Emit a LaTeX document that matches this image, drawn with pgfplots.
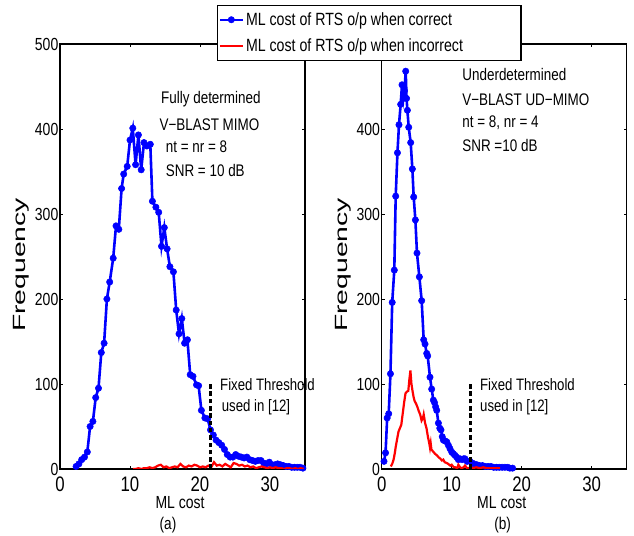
\documentclass[border=0pt]{standalone}
\usepackage{fontspec}
\setmainfont{Liberation Sans}[FakeStretch=0.8]
\newfontfamily\labelfont{Liberation Sans}
\usepackage{graphicx}
\usepackage{pgfplots}
\pgfplotsset{compat=1.18}

\pgfplotstableread{
x y
2.3 3
2.7 6
3.1 11
3.5 14
3.9 20
4.3 50
4.7 56
5.1 84
5.5 95
5.9 137
6.3 148
6.7 200
7.1 220
7.6 248
8.0 286
8.4 282
8.8 330
9.1 347
9.6 356
10.0 387
10.4 401
10.8 358
11.2 393
11.6 352
12.0 384
12.4 380
12.9 382
13.2 315
13.7 308
14.1 302
14.5 262
14.9 284
15.3 259
15.7 238
16.2 232
16.6 187
17.0 159
17.4 177
17.8 148
18.2 152
18.6 111
19.0 109
19.5 99
19.8 98
20.2 69
20.7 60
21.1 59
21.5 46
21.9 40
22.3 34
22.7 31
23.1 28
23.5 23
23.9 17
24.3 14
24.7 14
25.1 17
25.5 15
25.9 14
26.3 13
26.7 14
27.1 11
27.5 10
27.9 9
28.3 10
28.7 10
29.1 7
29.5 6
29.9 8
30.3 5
30.7 5
31.1 6
31.5 5
31.9 4
32.3 3
32.7 3
33.1 2
33.5 2
33.9 2
34.3 2
34.7 1
}\leftblue

\pgfplotstableread{
x y
10.4 0
10.8 0
11.2 1
11.6 0
12.0 1
12.4 1
12.8 2
13.2 1
13.6 2
14.0 4
14.4 5
14.8 2
15.2 3
15.6 1
16.0 2
16.4 3
16.8 2
17.2 6
17.6 3
18.0 2
18.4 4
18.8 3
19.2 5
19.6 4
20.0 2
20.4 3
20.8 2
21.2 4
21.6 2
22.0 8
22.4 4
22.8 5
23.2 3
23.6 6
24.0 4
24.4 2
24.8 7
25.2 6
25.6 4
26.0 5
26.4 3
26.8 4
27.2 2
27.6 3
28.0 1
28.4 2
28.8 3
29.2 2
29.6 1
30.0 2
30.4 1
30.8 2
31.2 1
31.6 1
32.0 0
32.4 1
32.8 1
33.2 0
33.6 1
34.0 0
34.4 1
34.8 0
}\leftred

\pgfplotstableread{
x y
0.33 9
0.55 19
0.78 60
1.0 65
1.25 112
1.5 196
1.8 234
2.0 321
2.25 372
2.47 405
2.71 429
2.9 452
3.1 436
3.25 445
3.43 468
3.55 436
3.67 422
3.86 402
4.14 384
4.38 353
4.57 320
4.81 293
5.04 254
5.38 226
5.71 198
6.0 152
6.19 147
6.43 136
6.57 133
6.9 108
7.14 94
7.38 81
7.55 78
7.71 73
7.86 69
8.1 54
8.3 48
8.47 46
8.65 38
8.81 34
9.05 33
9.29 32
9.52 28
9.75 24
10.0 20
10.24 18
10.48 16
10.7 14
10.95 11
11.2 12
11.5 11
11.7 12
11.9 12
12.2 9
12.6 9
12.9 7
13.2 6
13.6 5
14.0 4
14.4 4
14.8 3
15.2 3
15.6 3
16.0 2
16.4 2
16.8 2
17.2 2
17.6 2
18.0 2
18.3 1
18.7 1
}\rightblue

\pgfplotstableread{
x y
1.3 3
1.5 6
1.7 11
1.9 20
2.0 26
2.2 35
2.4 44
2.6 48
2.8 52
3.0 65
3.2 78
3.4 89
3.6 91
3.8 92
3.95 105
4.1 116
4.25 100
4.4 92
4.55 85
4.7 80
4.9 77
5.1 73
5.3 68
5.5 64
5.7 57
5.9 60
6.0 64
6.2 54
6.4 48
6.6 38
6.8 30
6.9 25
7.0 30
7.1 23
7.4 20
7.6 18
7.9 16
8.1 14
8.4 12
8.6 10
8.8 11
9.0 8
9.3 7
9.5 6
9.8 4
10.0 5
10.3 2
10.5 2
10.8 1
10.95 5
11.2 2
11.4 1
11.7 2
11.9 4
12.2 1
12.4 1
12.7 2
13.0 1
13.5 2
14.0 1
14.5 2
15.0 1
15.5 1
16.0 1
16.5 1
16.9 1
}\rightred

\tikzset{
  blueline/.style={blue, line width=2.6bp, mark=*, mark size=3.2bp, mark options={fill=blue, draw=blue, line width=0.5bp}},
  redline/.style={red, line width=2.2bp},
  thresh/.style={black, line width=3.3bp, dash pattern=on 4.5bp off 2.8bp},
  annot/.style={anchor=base west, font=\fontsize{16.8bp}{17bp}\selectfont, inner sep=0pt},
  annotb/.style={anchor=base west, font=\fontsize{16.5bp}{17bp}\selectfont, inner sep=0pt},
}

\pgfplotsset{
  myaxis/.style={
    scale only axis,
    width=245bp, height=425bp,
    anchor=south west,
    xmin=0, xmax=35, ymin=0, ymax=500,
    xtick={0,10,20,30},
    xticklabels={\textrm{0},\textrm{10},\textrm{20},\textrm{30}},
    tick align=inside,
    major tick length=3bp,
    axis line style={line width=1.3bp},
    every tick/.style={black, line width=0.8bp},
    clip mode=individual,
    xticklabel style={font=\fontsize{21bp}{21bp}\selectfont, inner ysep=0bp, yshift=-8bp},
    yticklabel style={font=\fontsize{17.5bp}{18bp}\selectfont, inner xsep=1.5bp, inner ysep=0bp},
    xlabel={ML cost},
    xlabel style={font=\fontsize{17.5bp}{18bp}\selectfont, inner sep=0bp, at={(axis description cs:0.49,-0.078)}, anchor=center},
    ylabel={\fontsize{17.7bp}{18bp}\selectfont\labelfont\scalebox{1.6}[1]{Frequency}},
    ylabel style={at={(axis description cs:-0.157,0.48)}, anchor=center},
  },
}

\begin{document}
\begin{tikzpicture}
\useasboundingbox (0,0) rectangle (634bp,536bp);

% right axis (drawn first so the legend covers it)
\begin{axis}[myaxis, at={(381.7bp,67bp)}, ytick={0,100,200,300,400},
  yticklabels={\textrm{0},\textrm{100},\textrm{200},\textrm{300},\textrm{400}}]
\addplot[blueline] table[x=x,y=y] {\rightblue};
\addplot[redline, no marks] table[x=x,y=y] {\rightred};
\addplot[thresh, no marks] coordinates {(12.7,0) (12.7,100)};
\node[annot] at (axis cs:11.5,456.5) {Underdetermined};
\node[annot] at (axis cs:11.5,428.2) {V−BLAST UD−MIMO};
\node[annot] at (axis cs:11.5,401.5) {nt = 8, nr = 4};
\node[annot] at (axis cs:11.5,373.3) {SNR =10 dB};
\node[annotb] at (axis cs:14.04,91.8) {Fixed Threshold};
\node[annotb] at (axis cs:14.04,67.4) {used in [12]};
\end{axis}

% left axis with legend
\begin{axis}[myaxis, at={(60bp,67bp)}, ytick={0,100,200,300,400,500},
  yticklabels={\textrm{0},\textrm{100},\textrm{200},\textrm{300},\textrm{400},\textrm{500}},
  legend style={at={(rel axis cs:0.641,1.0918)}, anchor=north west,
    draw=black, line width=1.2bp, fill=white,
    font=\fontsize{17.7bp}{18bp}\selectfont,
    inner xsep=1bp, inner ysep=5bp, row sep=8bp},
  legend cell align=left,
  legend image post style={line width=2.4bp},
  legend image code/.code={\draw[mark repeat=2,mark phase=2,#1] plot coordinates {(0bp,0bp) (11.5bp,0bp) (23bp,0bp)};}
]
\addplot[blueline] table[x=x,y=y] {\leftblue};
\addlegendentry{ML cost of RTS o/p when correct}
\addplot[redline, no marks] table[x=x,y=y] {\leftred};
\addlegendentry{ML cost of RTS o/p when incorrect\hspace*{55bp}}
\addplot[thresh, no marks, forget plot] coordinates {(21.5,0) (21.5,100)};
\node[annot] at (axis cs:14.43,430.2) {Fully determined};
\node[annot] at (axis cs:14.2,398.8) {V−BLAST MIMO};
\node[annot] at (axis cs:15.1,371.8) {nt = nr = 8};
\node[annot] at (axis cs:15.1,344.7) {SNR = 10 dB};
\node[annotb] at (axis cs:22.86,91.8) {Fixed Threshold};
\node[annotb] at (axis cs:23.1,67.4) {used in [12]};
\end{axis}

\node[font=\fontsize{17bp}{17bp}\selectfont] at (168bp,11.3bp) {(a)};
\node[font=\fontsize{17bp}{17bp}\selectfont] at (502.7bp,11bp) {(b)};
\end{tikzpicture}
\end{document}
